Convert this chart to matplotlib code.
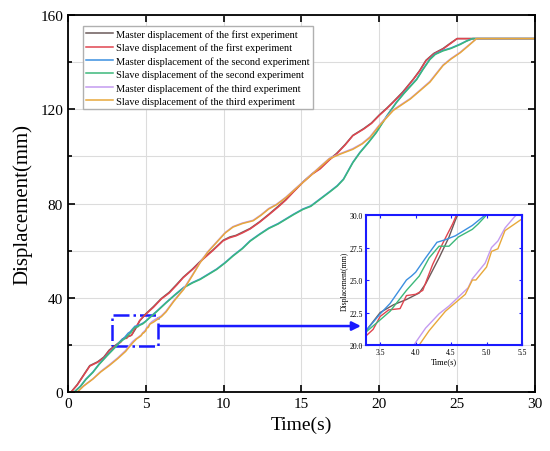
import matplotlib
matplotlib.use('Agg')
import matplotlib.pyplot as plt
from matplotlib.patches import Rectangle
from matplotlib.ticker import MultipleLocator, FormatStrFormatter

plt.rcParams['font.family'] = ['Liberation Serif', 'DejaVu Serif']

# experiment 1
t_m1 = [0, 0.2, 0.6, 1.0, 1.4, 1.9, 2.3, 2.65, 3.0, 3.3, 3.5, 3.69, 3.87, 4.05, 4.14, 4.33, 4.47, 4.56, 4.61,
        5.0, 5.5, 6.0, 6.5, 7.0, 7.4, 8.0, 8.7, 9.3, 9.97, 10.4, 10.8, 11.2, 11.7, 12.3, 12.9, 13.5, 14.0, 14.5,
        15.1, 15.7, 16.2, 16.8, 17.25, 17.8, 18.3, 19.0, 19.5, 20.0, 20.5, 20.9, 21.5, 22.2, 22.6, 23.0, 23.5,
        24.1, 24.6, 25.0, 30]
y_m1 = [0, 0, 3.2, 7.2, 11.2, 12.8, 14.8, 17.8, 19.6, 21.1, 22.5, 23.1, 23.5, 24.0, 24.7, 26.7, 28.3, 29.6, 30.2,
        33.2, 36.3, 39.7, 42.3, 45.8, 48.7, 52.2, 56.8, 60.2, 64.4, 65.8, 66.5, 67.8, 69.4, 72.2, 75.4, 78.8, 81.7,
        85.2, 89.2, 92.7, 95.0, 98.8, 101.2, 105.0, 108.9, 111.8, 114.2, 117.6, 120.6, 123.2, 127.3, 132.9, 136.5,
        140.8, 143.7, 145.8, 148.2, 150, 150]
t_s1 = [0, 0.2, 0.6, 1.0, 1.4, 1.9, 2.3, 2.65, 3.0, 3.3, 3.4, 3.5, 3.62, 3.78, 3.87, 4.0, 4.1, 4.24, 4.38, 4.52,
        4.6, 5.0, 5.5, 6.0, 6.5, 7.0, 7.4, 8.0, 8.7, 9.3, 9.97, 10.4, 10.8, 11.2, 11.7, 12.3, 12.9, 13.5, 14.0,
        14.5, 15.1, 15.7, 16.2, 16.8, 17.25, 17.8, 18.3, 19.0, 19.5, 20.0, 20.5, 20.9, 21.5, 22.2, 22.6, 23.0,
        23.5, 24.1, 24.6, 25.0, 30]
y_s1 = [0, 0, 3, 7, 11, 12.6, 14.5, 17.5, 19.3, 20.7, 21.2, 22.2, 22.7, 22.8, 23.8, 23.9, 24.2, 26.2, 27.8, 29.3,
        30.3, 33, 36, 39.5, 42, 45.5, 48.5, 52, 56.5, 60, 64.2, 65.5, 66.3, 67.5, 69.2, 72, 75.2, 78.5, 81.5, 85,
        89, 92.5, 94.7, 98.5, 101, 104.8, 108.8, 111.6, 114, 117.4, 120.4, 123, 127, 132.8, 136.3, 140.6, 143.5,
        145.6, 148, 150, 150]

# experiment 2
t_m2 = [0, 0.4, 0.8, 1.15, 1.6, 2.0, 2.5, 3.1, 3.3, 3.5, 3.64, 3.87, 3.94, 4.0, 4.14, 4.3, 4.42, 4.56, 4.8, 4.98,
        5.3, 5.65, 6.3, 6.9, 7.45, 8.0, 8.5, 9.0, 9.55, 10.1, 10.6, 11.2, 11.7, 12.3, 12.9, 13.5, 14.0, 14.5, 15.1,
        15.6, 16.2, 16.8, 17.3, 17.7, 18.3, 18.75, 19.3, 19.8, 20.5, 21.1, 21.6, 22.4, 22.8, 23.25, 23.6, 24.1,
        24.6, 25.2, 25.6, 26.0, 30]
y_m2 = [0, 0, 2.5, 5.5, 8.5, 11.9, 15.5, 19.6, 21.1, 22.4, 23.2, 25.0, 25.3, 25.6, 26.7, 27.9, 28.1, 28.4, 29.2,
        30.0, 32.0, 34.0, 38.0, 41.5, 44.5, 46.5, 48.0, 50.0, 52.2, 55.0, 57.9, 61.0, 64.2, 67.0, 69.6, 71.5, 73.5,
        75.5, 77.7, 79.0, 82.0, 85.0, 87.6, 90.4, 97.5, 101.7, 106.0, 110.2, 117.4, 123.0, 127.0, 132.8, 137.0,
        141.3, 143.5, 145.0, 146.0, 147.7, 149.0, 150, 150]
t_s2 = [0, 0.4, 0.8, 1.15, 1.6, 2.0, 2.5, 3.1, 3.3, 3.45, 3.64, 3.87, 4.05, 4.19, 4.33, 4.47, 4.6, 4.8, 4.88, 5.0,
        5.3, 5.65, 6.3, 6.9, 7.45, 8.0, 8.5, 9.0, 9.55, 10.1, 10.6, 11.2, 11.7, 12.3, 12.9, 13.5, 14.0, 14.5, 15.1,
        15.6, 16.2, 16.8, 17.3, 17.7, 18.3, 18.75, 19.3, 19.8, 20.5, 21.1, 21.6, 22.4, 22.8, 23.25, 23.6, 24.1,
        24.6, 25.2, 25.6, 26.0, 30]
y_s2 = [0, 0, 2.3, 5.3, 8.3, 11.7, 15.3, 19.4, 21.0, 21.7, 22.6, 24.2, 25.3, 26.7, 27.6, 27.6, 28.3, 28.9, 29.3,
        30.0, 31.8, 33.8, 37.8, 41.3, 44.3, 46.3, 47.8, 49.8, 52.0, 54.8, 57.7, 60.8, 64.0, 66.8, 69.4, 71.3, 73.3,
        75.3, 77.5, 78.8, 81.8, 84.8, 87.4, 90.2, 97.3, 101.5, 105.8, 110.0, 117.2, 122.8, 126.8, 132.6, 136.8,
        141.1, 143.3, 144.8, 145.8, 147.5, 148.9, 150, 150]

# experiment 3
t_m3 = [0, 0.6, 1.0, 1.6, 2.1, 2.65, 3.2, 3.7, 4.0, 4.14, 4.33, 4.47, 4.74, 4.8, 4.98, 5.07, 5.16, 5.26, 5.4, 5.6,
        6.0, 6.3, 6.8, 7.45, 8.0, 8.5, 9.0, 9.55, 10.1, 10.6, 11.2, 11.9, 12.4, 12.9, 13.4, 14.0, 14.5, 15.1, 15.7,
        16.2, 16.8, 17.5, 18.3, 18.9, 19.4, 20.0, 20.9, 22.0, 22.6, 23.25, 24.1, 24.6, 25.2, 25.7, 26.25, 30]
y_m3 = [0, 0, 2.6, 5.6, 8.7, 11.5, 14.5, 17.6, 20.2, 21.3, 22.4, 23.0, 24.4, 25.1, 26.3, 27.5, 28.0, 29.0, 29.9,
        30.8, 32.3, 34.3, 38.8, 44.0, 49.8, 55.2, 59.7, 63.7, 67.7, 70.2, 71.7, 72.9, 75.2, 77.9, 79.7, 82.7, 85.7,
        89.2, 92.7, 95.7, 99.2, 101.2, 103.3, 105.5, 108.3, 113.3, 119.8, 124.6, 128.0, 131.8, 138.8, 141.5, 144.2,
        147.0, 150, 150]
t_s3 = [0, 0.6, 1.0, 1.6, 2.1, 2.65, 3.2, 3.7, 4.05, 4.19, 4.42, 4.7, 4.8, 4.85, 5.0, 5.07, 5.16, 5.26, 5.5, 6.0,
        6.3, 6.8, 7.45, 8.0, 8.5, 9.0, 9.55, 10.1, 10.6, 11.2, 11.9, 12.4, 12.9, 13.4, 14.0, 14.5, 15.1, 15.7, 16.2,
        16.8, 17.5, 18.3, 18.9, 19.4, 20.0, 20.9, 22.0, 22.6, 23.25, 24.1, 24.6, 25.2, 25.7, 26.25, 30]
y_s3 = [0, 0, 2.5, 5.5, 8.5, 11.2, 14.2, 17.2, 20.0, 21.1, 22.6, 23.9, 25.0, 25.0, 26.0, 27.2, 27.4, 28.8, 29.7,
        32.0, 34.0, 38.5, 43.7, 49.5, 55.0, 59.5, 63.5, 67.5, 70.0, 71.5, 72.7, 75.0, 77.7, 79.5, 82.5, 85.5, 89.0,
        92.5, 95.5, 99.0, 101.0, 103.0, 105.3, 108.0, 113.0, 119.5, 124.4, 127.8, 131.5, 138.6, 141.3, 144.0,
        146.8, 150, 150]

labels = ['Master displacement of the first experiment', 'Slave displacement of the first experiment',
          'Master displacement of the second experiment', 'Slave displacement of the second experiment',
          'Master displacement of the third experiment', 'Slave displacement of the third experiment']
colors = ['#6b5a5a', '#e0454f', '#3b8fe0', '#3cb87a', '#c49bf0', '#e8a83a']
series = [(t_m1, y_m1), (t_s1, y_s1), (t_m2, y_m2), (t_s2, y_s2), (t_m3, y_m3), (t_s3, y_s3)]

fig = plt.figure(figsize=(5.5, 4.52), dpi=100)
ax = fig.add_axes([0.1236, 0.1305, 0.849, 0.834])
for (t, y), c, lab in zip(series, colors, labels):
    ax.plot(t, y, color=c, lw=1.1, label=lab)
ax.set_xlim(0, 30)
ax.set_ylim(0, 160)
ax.xaxis.set_major_locator(MultipleLocator(5))
ax.yaxis.set_major_locator(MultipleLocator(40))
ax.yaxis.set_minor_locator(MultipleLocator(20))
ax.grid(True, which='both', axis='y', color='#dcdcdc', lw=0.8)
ax.grid(True, which='major', axis='x', color='#dcdcdc', lw=0.8)
ax.set_axisbelow(True)
ax.tick_params(which='both', direction='in', top=True, right=True, labelsize=11, width=1.2)
ax.tick_params(which='major', length=5)
ax.tick_params(which='minor', length=3)
for s in ax.spines.values():
    s.set_linewidth(1.3)
ax.set_xlabel('Time(s)', fontsize=14)
ax.set_ylabel('Displacement(mm)', fontsize=15, labelpad=6)
leg = ax.legend(loc='upper left', bbox_to_anchor=(0.02, 0.985), fontsize=7.5, handlelength=2.6,
                handletextpad=0.3, labelspacing=0.36, borderpad=0.3, fancybox=False, framealpha=1)
leg.get_frame().set_edgecolor('#b0b0b0')

# zoom box and arrow
ax.add_patch(Rectangle((2.8, 19.5), 3.0, 13.2, fill=False, ec='#1a1aff', lw=1.8, ls='-.'))
ax.annotate('', xy=(19.0, 28), xytext=(5.7, 28),
            arrowprops=dict(arrowstyle='-|>', color='#1a1aff', lw=1.8, mutation_scale=13))

# inset
ins = fig.add_axes([0.6655, 0.2345, 0.2836, 0.2876])
ins.set_facecolor('none')
for (t, y), c in zip(series, colors):
    ins.plot(t, y, color=c, lw=1.0)
ins.set_xlim(3.3, 5.5)
ins.set_ylim(20, 30)
ins.set_xticks([3.5, 4.0, 4.5, 5.0, 5.5])
ins.set_yticks([20.0, 22.5, 25.0, 27.5, 30.0])
ins.xaxis.set_major_formatter(FormatStrFormatter('%.1f'))
ins.yaxis.set_major_formatter(FormatStrFormatter('%.1f'))
ins.tick_params(direction='in', top=True, right=True, labelsize=5.5, length=2, color='#1a1aff', pad=2)
for s in ins.spines.values():
    s.set_color('#1a1aff')
    s.set_linewidth(1.5)
ins.set_xlabel('Time(s)', fontsize=6, labelpad=1)
ins.set_ylabel('Displacement(mm)', fontsize=5.5, labelpad=1)

fig.savefig('out.png', dpi=100)
